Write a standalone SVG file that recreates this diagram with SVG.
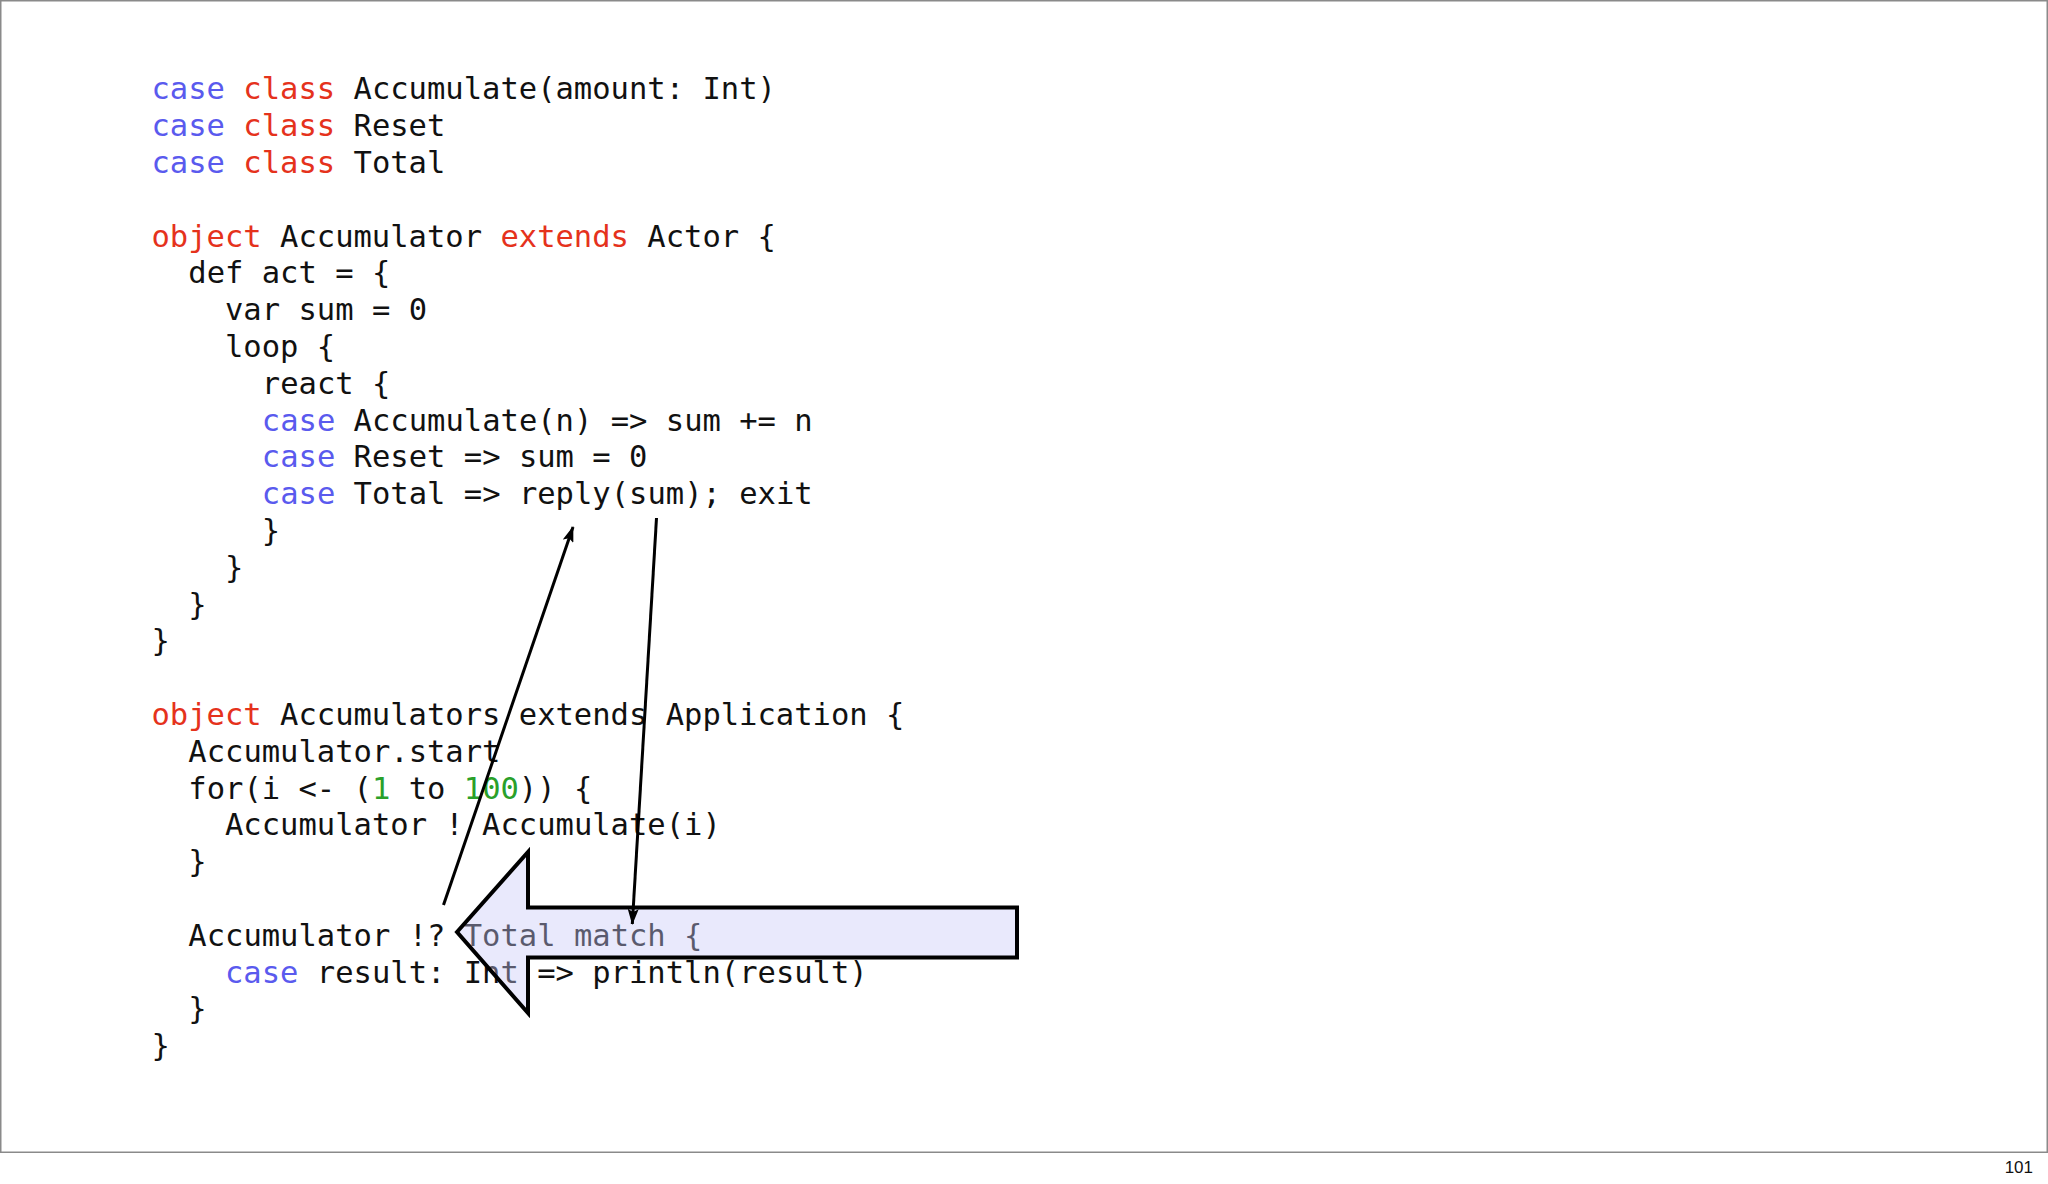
<svg xmlns="http://www.w3.org/2000/svg" width="2048" height="1184" viewBox="0 0 2048 1184">
<style>
  .code { font-family: "DejaVu Sans Mono", "Liberation Mono", monospace; font-size: 30.5px; fill: #111111; }
  .kb { fill: #5a5aee; }
  .kr { fill: #e5321c; }
  .kg { fill: #2aa02a; }
  .conn { stroke: #000000; stroke-width: 3; fill: none; }
  .page { font-family: "Liberation Sans", Arial, sans-serif; font-size: 17px; fill: #111111; }
</style>
<defs>
  <marker id="ah" viewBox="0 0 16 11" markerWidth="16" markerHeight="11" refX="15" refY="5.5" orient="auto" markerUnits="userSpaceOnUse">
    <path d="M0,0 L16,5.5 L0,11 L3,5.5 z" fill="#000000"/>
  </marker>
</defs>
<rect x="0" y="0" width="2048" height="1184" fill="#ffffff"/>
<rect id="slide" x="0.75" y="0.75" width="2046.5" height="1151.5" fill="#ffffff" stroke="#8a8a8a" stroke-width="1.5"/>
<g id="code" class="code" xml:space="preserve">
<text x="151.5" y="99.4"><tspan class="kb">case</tspan> <tspan class="kr">class</tspan> Accumulate(amount: Int)</text>
<text x="151.5" y="136.2"><tspan class="kb">case</tspan> <tspan class="kr">class</tspan> Reset</text>
<text x="151.5" y="173"><tspan class="kb">case</tspan> <tspan class="kr">class</tspan> Total</text>
<text x="151.5" y="246.6"><tspan class="kr">object</tspan> Accumulator <tspan class="kr">extends</tspan> Actor {</text>
<text x="188.3" y="283.4">def act = {</text>
<text x="225" y="320.2">var sum = 0</text>
<text x="225" y="357">loop {</text>
<text x="261.8" y="393.8">react {</text>
<text x="261.8" y="430.6"><tspan class="kb">case</tspan> Accumulate(n) =&gt; sum += n</text>
<text x="261.8" y="467.4"><tspan class="kb">case</tspan> Reset =&gt; sum = 0</text>
<text x="261.8" y="504.2"><tspan class="kb">case</tspan> Total =&gt; reply(sum); exit</text>
<text x="261.8" y="541">}</text>
<text x="225" y="577.8">}</text>
<text x="188.3" y="614.6">}</text>
<text x="151.5" y="651.4">}</text>
<text x="151.5" y="725"><tspan class="kr">object</tspan> Accumulators extends Application {</text>
<text x="188.3" y="761.8">Accumulator.start</text>
<text x="188.3" y="798.6">for(i &lt;- (<tspan class="kg">1</tspan> to <tspan class="kg">100</tspan>)) {</text>
<text x="225" y="835.4">Accumulator ! Accumulate(i)</text>
<text x="188.3" y="872.2">}</text>
<text x="188.3" y="945.8">Accumulator !? Total match {</text>
<text x="225" y="982.6"><tspan class="kb">case</tspan> result: Int =&gt; println(result)</text>
<text x="188.3" y="1019.4">}</text>
<text x="151.5" y="1056.2">}</text>
</g>
<g id="big-arrow">
  <polygon points="457,932 528,852 528,907.5 1017,907.5 1017,957.5 528,957.5 528,1013" fill="#c8c8f7" fill-opacity="0.4" stroke="#000000" stroke-width="4" stroke-linejoin="miter"/>
</g>
<g id="connectors">
  <line class="conn" x1="443.5" y1="905" x2="573" y2="527" marker-end="url(#ah)"/>
  <line class="conn" x1="656.5" y1="518" x2="632.3" y2="924" marker-end="url(#ah)"/>
</g>
<text id="page-number" class="page" x="2033" y="1173" text-anchor="end">101</text>
</svg>
